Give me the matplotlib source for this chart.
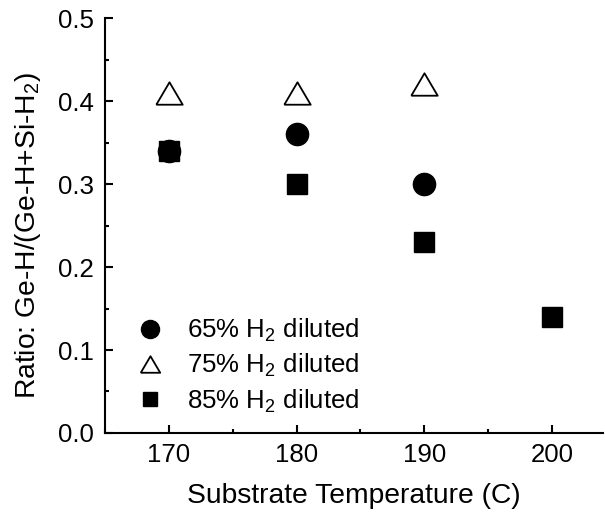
import numpy as np
import matplotlib
matplotlib.use('Agg')
import matplotlib.pyplot as plt
from matplotlib.ticker import MultipleLocator
#-------------------------------------------------------------------------------

plt.rcParams['font.family'] = ['Liberation Sans', 'DejaVu Sans']
plt.rcParams['mathtext.fontset'] = 'custom'
plt.rcParams['mathtext.rm'] = 'Liberation Sans'
plt.rcParams['mathtext.it'] = 'Liberation Sans'

temp_65 = [170, 180, 190]
ratio_65 = [0.34, 0.36, 0.30]
temp_75 = [170, 180, 190]
ratio_75 = [0.41, 0.41, 0.42]
temp_85 = [170, 180, 190, 200]
ratio_85 = [0.34, 0.30, 0.23, 0.14]

labels = ['65% H$_2$ diluted', '75% H$_2$ diluted', '85% H$_2$ diluted']

tri = [(-1, -0.85), (1, -0.85), (0, 0.85), (-1, -0.85)]

#-------------------------------------------------------------------------------
fig = plt.figure(figsize=(6.05, 5.17), dpi=100)
ax = fig.add_axes([0.1736, 0.1625, 0.8231, 0.8025])

ax.plot(temp_85, ratio_85, 's', color='black', markersize=15, label=labels[2])
ax.plot(temp_65, ratio_65, 'o', color='black', markersize=16, label=labels[0])
ax.plot(temp_75, ratio_75, marker=tri, linestyle='none', markerfacecolor='white',
        markeredgecolor='black', markeredgewidth=1.3, markersize=19, label=labels[1])

ax.set_xlim(165, 204)
ax.set_ylim(0, 0.5)
ax.xaxis.set_major_locator(MultipleLocator(10))
ax.xaxis.set_minor_locator(MultipleLocator(5))
ax.yaxis.set_major_locator(MultipleLocator(0.1))
ax.yaxis.set_minor_locator(MultipleLocator(0.05))
ax.yaxis.set_major_formatter(plt.FormatStrFormatter('%.1f'))

for s in ['top', 'right']:
    ax.spines[s].set_visible(False)
for s in ['left', 'bottom']:
    ax.spines[s].set_linewidth(1.5)
ax.tick_params(which='major', direction='in', length=6, width=1.5, labelsize=18.6)
ax.tick_params(axis='x', which='major', pad=7)
ax.tick_params(axis='y', which='major', pad=8)
ax.tick_params(which='minor', direction='in', length=3, width=1.5)

ax.set_xlabel('Substrate Temperature (C)', fontsize=20.3, labelpad=12)
ax.set_ylabel('Ratio: Ge-H/(Ge-H+Si-H$_2$)', fontsize=20.3)
ax.yaxis.set_label_coords(-0.125, 0.475)

h, l = ax.get_legend_handles_labels()
order = [1, 2, 0]
leg = ax.legend([h[i] for i in order], [l[i] for i in order], loc='lower left',
                bbox_to_anchor=(0.013, -0.012), frameon=False, fontsize=18.6,
                handletextpad=0.83, labelspacing=0.32, handlelength=1.2)
sizes = [13, 14, 10]
for lh, ms in zip(leg.legend_handles, sizes):
    lh.set_markersize(ms)

fig.savefig('out.png', dpi=100)
